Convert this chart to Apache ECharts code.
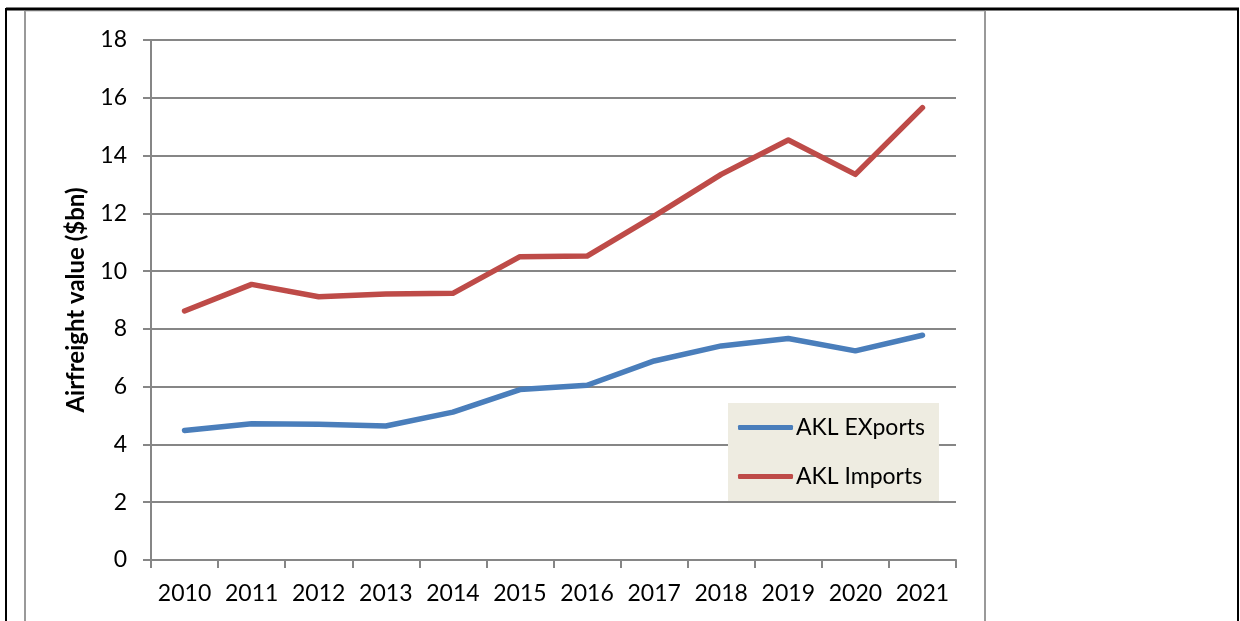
<!DOCTYPE html>
<html>
<head>
<meta charset="utf-8">
<title>AKL airfreight</title>
<script src="https://cdn.jsdelivr.net/npm/echarts@6/dist/echarts.min.js"></script>
<style>
    html, body { margin: 0; padding: 0; background: #fff; }
    #myChart { width: 1240px; height: 621px; }
</style>
</head>
<body>
<div id="myChart"></div>
<script>
    // 年份
    var years = ['2010', '2011', '2012', '2013', '2014', '2015', '2016', '2017', '2018', '2019', '2020', '2021'];
    // 出口 ($bn)
    var exportsData = [4.48, 4.72, 4.70, 4.64, 5.12, 5.90, 6.05, 6.89, 7.41, 7.67, 7.24, 7.78];
    // 进口 ($bn)
    var importsData = [8.62, 9.54, 9.11, 9.21, 9.23, 10.50, 10.52, 11.90, 13.35, 14.54, 13.35, 15.66];
    var yTicks = [0, 2, 4, 6, 8, 10, 12, 14, 16, 18];

    const font = 'Lato, "Open Sans", sans-serif';
    const grey = '#868686';

    let myChart = echarts.init(document.getElementById('myChart'));
    myChart.setOption({
        animation: false,
        textStyle: { fontFamily: font },
        color: ['#4A7EBB', '#BE4B48'],
        grid: {
            left: 151,
            right: 284,
            top: 40,
            bottom: 61
        },
        legend: {
            orient: 'vertical',
            left: 728,
            top: 403,
            width: 212,
            backgroundColor: '#EEECE1',
            padding: [13, 14, 13, 10],
            itemGap: 26,
            itemWidth: 55,
            itemHeight: 5,
            icon: 'roundRect',
            textStyle: { fontFamily: font, fontSize: 23, color: '#000', padding: [0, 0, 0, -2] },
            data: ['AKL EXports', 'AKL Imports']
        },
        xAxis: {
            type: 'category',
            boundaryGap: true,
            data: years,
            axisLine: { show: true, lineStyle: { color: grey, width: 2 } },
            axisTick: { show: true, interval: 0, length: 8, lineStyle: { color: grey, width: 2 } },
            axisLabel: { color: '#000', fontSize: 23, margin: 22, interval: 0, hideOverlap: false, fontFamily: font }
        },
        yAxis: {
            type: 'value',
            min: yTicks[0],
            max: yTicks[yTicks.length - 1],
            interval: 2,
            name: 'Airfreight value ($bn)',
            nameLocation: 'middle',
            nameGap: 63,
            nameTextStyle: { color: '#000', fontSize: 24, fontWeight: 'bold', fontFamily: font },
            axisLine: { show: true, lineStyle: { color: grey, width: 2 } },
            axisTick: { show: true, length: 8, lineStyle: { color: grey, width: 2 } },
            axisLabel: { color: '#000', fontSize: 23, margin: 24, fontFamily: font },
            splitLine: { show: true, lineStyle: { color: grey, width: 2 } }
        },
        series: [
            {
                name: 'AKL EXports',
                type: 'line',
                data: exportsData,
                showSymbol: false,
                symbol: 'none',
                lineStyle: { width: 5.5, cap: 'round', join: 'round' }
            },
            {
                name: 'AKL Imports',
                type: 'line',
                data: importsData,
                showSymbol: false,
                symbol: 'none',
                lineStyle: { width: 5.5, cap: 'round', join: 'round' }
            }
        ],
        // 外框
        graphic: [
            { type: 'line', shape: { x1: 25, y1: 11, x2: 25, y2: 621 }, style: { stroke: '#999', lineWidth: 2 } },
            { type: 'line', shape: { x1: 985, y1: 11, x2: 985, y2: 621 }, style: { stroke: '#999', lineWidth: 2 } },
            { type: 'line', shape: { x1: 25, y1: 11, x2: 985, y2: 11 }, style: { stroke: '#bbb', lineWidth: 1 } },
            { type: 'line', shape: { x1: 6, y1: 9, x2: 1239, y2: 9 }, style: { stroke: '#000', lineWidth: 3 } },
            { type: 'line', shape: { x1: 6, y1: 8, x2: 6, y2: 621 }, style: { stroke: '#000', lineWidth: 2 } },
            { type: 'line', shape: { x1: 1238, y1: 8, x2: 1238, y2: 621 }, style: { stroke: '#000', lineWidth: 2 } }
        ]
    });
</script>
</body>
</html>
